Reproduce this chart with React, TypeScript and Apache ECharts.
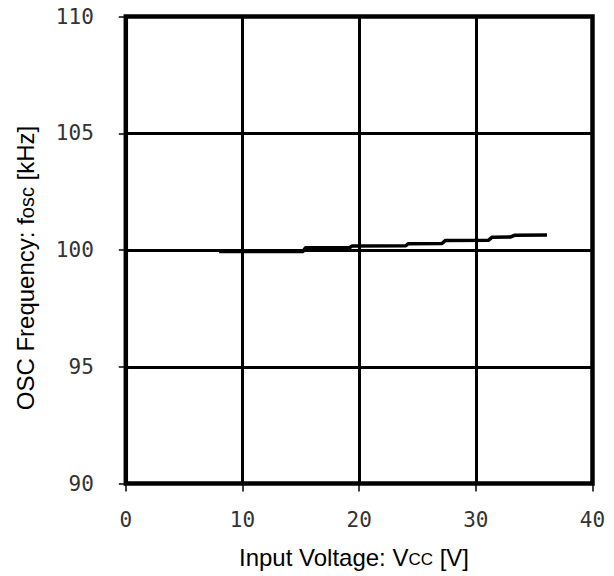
import React, { useEffect, useRef } from "react";
import * as echarts from "echarts";

const inputVoltage = [8, 15.2, 15.4, 19.2, 19.4, 24.0, 24.2, 27.1, 27.4, 31.1, 31.4, 33.0, 33.3, 36.1];
const oscFrequency = [99.94, 99.94, 100.1, 100.11, 100.17, 100.18, 100.27, 100.28, 100.41, 100.42, 100.55, 100.56, 100.63, 100.64];
const xTicks = [0, 10, 20, 30, 40];
const yTicks = [90, 95, 100, 105, 110];

const tickFont = "'DejaVu Sans Mono', monospace";
const titleFont = "'Liberation Sans', Arial, sans-serif";

export default function App() {
  const ref = useRef<HTMLDivElement>(null);
  useEffect(() => {
    document.body.style.margin = "0";
    const chart = echarts.init(ref.current!, null, { renderer: "svg" });
    const data = inputVoltage.map((v, i) => [v, oscFrequency[i]]);
    chart.setOption({
      animation: false,
      backgroundColor: "#ffffff",
      grid: {
        left: 125.8,
        right: 21.5,
        top: 16.5,
        bottom: 92.5,
        show: true,
        borderColor: "#000",
        borderWidth: 4.5,
        backgroundColor: "transparent",
      },
      xAxis: {
        type: "value",
        min: xTicks[0],
        max: xTicks[xTicks.length - 1],
        interval: 10,
        axisLine: { show: false },
        axisTick: { show: true, length: 8, lineStyle: { color: "#000", width: 1.5 } },
        splitLine: { show: true, lineStyle: { color: "#000", width: 3 } },
        axisLabel: { color: "#333", fontFamily: tickFont, fontSize: 21, margin: 26 },
      },
      yAxis: {
        type: "value",
        min: yTicks[0],
        max: yTicks[yTicks.length - 1],
        interval: 5,
        axisLine: { show: false },
        axisTick: { show: true, length: 7, lineStyle: { color: "#000", width: 1.5 } },
        splitLine: { show: true, lineStyle: { color: "#000", width: 3 } },
        axisLabel: { color: "#333", fontFamily: tickFont, fontSize: 21, margin: 32 },
      },
      graphic: [
        {
          type: "text",
          x: 354,
          y: 557,
          style: {
            text: "Input Voltage: V{s|CC} [V]",
            font: `24px ${titleFont}`,
            fill: "#000",
            align: "center",
            verticalAlign: "middle",
            rich: { s: { fontSize: 17, fontFamily: titleFont, fill: "#000", padding: [5, 0, 0, 0] } },
          },
        },
        {
          type: "text",
          x: 25,
          y: 268,
          rotation: Math.PI / 2,
          style: {
            text: "OSC Frequency: f{s|osc} [kHz]",
            font: `24px ${titleFont}`,
            fill: "#000",
            align: "center",
            verticalAlign: "middle",
            rich: { s: { fontSize: 20, fontFamily: titleFont, fill: "#000", padding: [3, 0, 0, 0] } },
          },
        },
      ],
      series: [
        {
          type: "line",
          data,
          symbol: "none",
          lineStyle: { color: "#000", width: 3.5 },
          z: 5,
        },
      ],
    });
    return () => chart.dispose();
  }, []);
  return <div ref={ref} style={{ width: 614, height: 576 }} />;
}
